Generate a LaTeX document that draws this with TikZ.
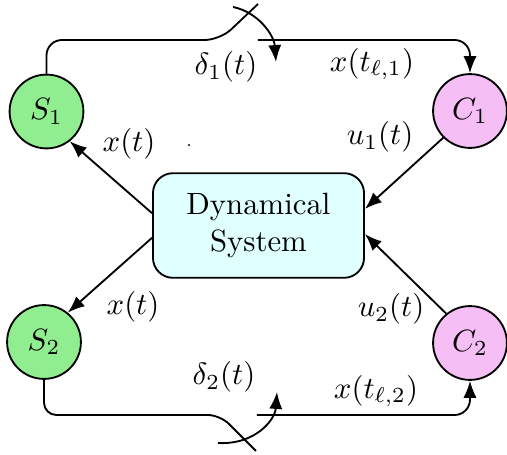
\documentclass[tikz,border=0pt]{standalone}
\usetikzlibrary{arrows.meta}
\definecolor{sgreen}{RGB}{144,238,144}
\definecolor{cpink}{RGB}{245,190,245}
\definecolor{dcyan}{RGB}{224,255,255}
\begin{document}
\begin{tikzpicture}[x=0.325pt,y=-0.325pt,
  line width=0.6pt,
  sensor/.style={circle,draw,fill=sgreen,minimum size=24pt,inner sep=0pt},
  ctrl/.style={circle,draw,fill=cpink,minimum size=24pt,inner sep=0pt},
  sysbox/.style={draw,fill=dcyan,rounded corners=6.5pt,minimum width=68.6pt,minimum height=34pt,align=center},
  arr/.style={-{Latex[length=5.5pt,width=4.3pt]}},
  lbl/.style={inner sep=0pt}]
\useasboundingbox (0,0) rectangle (507,455);
\node[sensor] (S1) at (46.5,111.5) {$S_1$};
\node[sensor] (S2) at (44,342) {$S_2$};
\node[ctrl] (C1) at (470,111) {$C_1$};
\node[ctrl] (C2) at (470,343) {$C_2$};
\node[sysbox] (sys) at (258.5,225.5) {Dynamical\\System};
% top channel
\coordinate (t1) at (220,40);
\coordinate (t2) at (258,4);
\coordinate (t3) at (258,40);
\coordinate (a1s) at (233,7);
\coordinate (a1e) at (276,62);
\draw[rounded corners=5pt] (S1.north) |- (t1) -- (t2);
\draw[arr,rounded corners=5pt] (t3) -| (C1.north);
\draw[arr] (a1s) .. controls (258,12) and (274,35) .. (a1e);
% bottom channel
\coordinate (b1) at (220,415);
\coordinate (b2) at (256,451);
\coordinate (b3) at (257,415);
\coordinate (a2s) at (218,443);
\coordinate (a2e) at (277,392);
\draw[rounded corners=4pt] (S2.south) |- (b1) -- (b2);
\draw[arr,rounded corners=5pt] (b3) -| (C2.south);
\draw[arr] (a2s) .. controls (255,445) and (275,420) .. (a2e);
% system connections
\draw[arr] ([yshift=4pt]sys.west) -- (S1.-52);
\draw[arr] ([yshift=-4pt]sys.west) -- (S2.51);
\draw[arr] (C1.225) -- ([yshift=5.4pt]sys.east);
\draw[arr] (C2.129) -- ([yshift=-2.8pt]sys.east);
% labels
\node[lbl] (l1) at (129,144) {$x(t)$};
\node[lbl] (l2) at (133,307) {$x(t)$};
\node[lbl] (l3) at (380,137) {$u_1(t)$};
\node[lbl] (l4) at (391,309) {$u_2(t)$};
\node[lbl] (l5) at (226,67) {$\delta_1(t)$};
\node[lbl] (l6) at (372,64) {$x(t_{\ell,1})$};
\node[lbl] (l7) at (224,377) {$\delta_2(t)$};
\node[lbl] (l8) at (376,391) {$x(t_{\ell,2})$};
\fill (189,145) circle (0.35pt);
\end{tikzpicture}
\end{document}
